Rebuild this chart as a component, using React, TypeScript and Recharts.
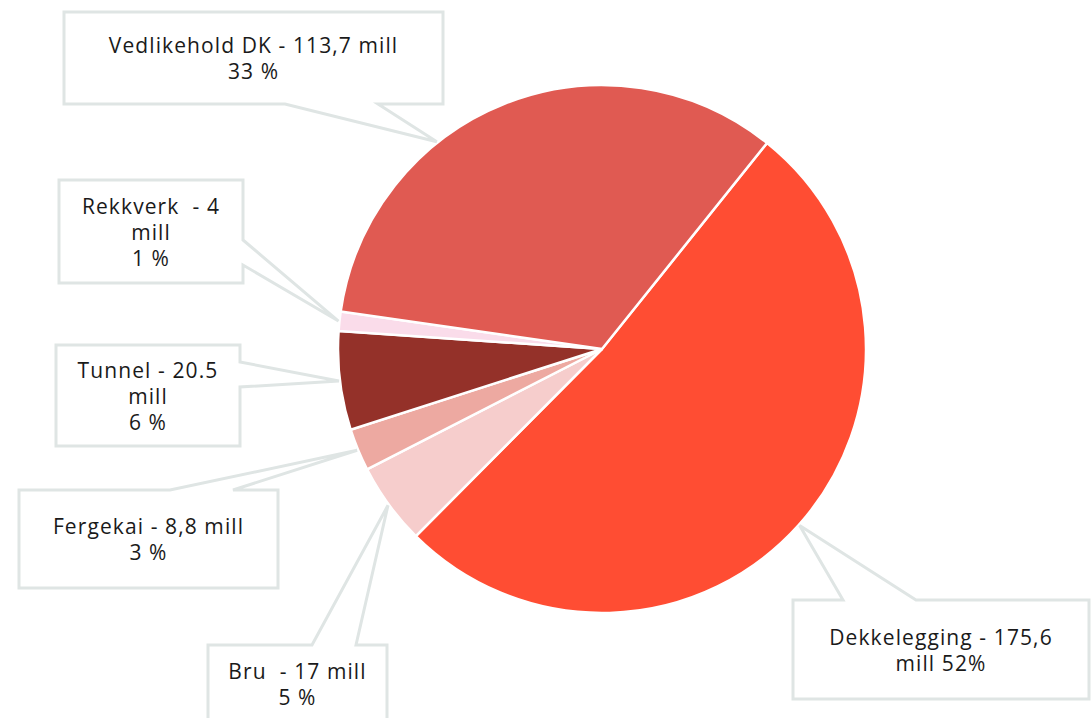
import { PieChart, Pie, Cell } from 'recharts';

// Vedlikeholdsbudsjett fordelt på tiltak (mill kr)
const categories = ['Dekkelegging', 'Bru', 'Fergekai', 'Tunnel', 'Rekkverk', 'Vedlikehold DK'];
const values = [175.6, 17, 8.8, 20.5, 4, 113.7];
const colors = ['#FF4D33', '#F6CDCC', '#EDA9A1', '#943129', '#FADCEA', '#E05A52'];
const labelLines = [
  ['Dekkelegging - 175,6', 'mill 52%'],
  ['Bru  - 17 mill', '5 %'],
  ['Fergekai - 8,8 mill', '3 %'],
  ['Tunnel - 20.5', 'mill', '6 %'],
  ['Rekkverk  - 4', 'mill', '1 %'],
  ['Vedlikehold DK - 113,7 mill', '33 %'],
];

const data = categories.map((name, i) => ({ name, value: values[i] }));

// callout boxes: rect + which side the pointer leaves from
type Callout = { x0: number; y0: number; x1: number; y1: number; side: 'top' | 'right' | 'bottom'; a: number; b: number; shift?: number };
const callouts: Callout[] = [
  { x0: 793, y0: 600, x1: 1089, y1: 699, side: 'top', a: 843, b: 916 },
  { x0: 208, y0: 645, x1: 387, y1: 724, side: 'top', a: 312, b: 356 },
  { x0: 19, y0: 490, x1: 278, y1: 588, side: 'top', a: 170, b: 233 },
  { x0: 56, y0: 345, x1: 240, y1: 446, side: 'right', a: 362, b: 387 },
  { x0: 59, y0: 180, x1: 243, y1: 283, side: 'right', a: 240, b: 265 },
  { x0: 64, y0: 12, x1: 443, y1: 104, side: 'bottom', a: 285, b: 378, shift: 17 },
];

const RADIAN = Math.PI / 180;
const LINE_H = 26;

function renderCallout(props: any) {
  const { cx, cy, midAngle, outerRadius, index } = props;
  const c = callouts[index];
  const ang = (midAngle + (c.shift || 0)) * RADIAN;
  const tx = cx + (outerRadius + 1) * Math.cos(ang);
  const ty = cy - (outerRadius + 1) * Math.sin(ang);
  const pts: [number, number][] = [[c.x0, c.y0]];
  if (c.side === 'top') pts.push([c.a, c.y0], [tx, ty], [c.b, c.y0]);
  pts.push([c.x1, c.y0]);
  if (c.side === 'right') pts.push([c.x1, c.a], [tx, ty], [c.x1, c.b]);
  pts.push([c.x1, c.y1]);
  if (c.side === 'bottom') pts.push([c.b, c.y1], [tx, ty], [c.a, c.y1]);
  pts.push([c.x0, c.y1]);
  const d = 'M' + pts.map((p) => p.join(',')).join('L') + 'Z';

  const lines = labelLines[index];
  const midX = (c.x0 + c.x1) / 2;
  const midY = index === 1 ? 684 : (c.y0 + c.y1) / 2;
  const firstY = midY - ((lines.length - 1) * LINE_H) / 2 + 8;
  return (
    <g key={`callout-${index}`}>
      <path d={d} fill="#fff" stroke="#DFE5E4" strokeWidth={3} strokeLinejoin="miter" />
      <text
        x={midX}
        textAnchor="middle"
        fontSize={21}
        letterSpacing={1.1}
        fill="#1a1a1a"
        fontFamily="'Open Sans', sans-serif"
        style={{ whiteSpace: 'pre' }}
      >
        {lines.map((l, i) => (
          <tspan key={i} x={midX} y={firstY + i * LINE_H}>{l}</tspan>
        ))}
      </text>
    </g>
  );
}

export default function App() {
  return (
    <div style={{ position: 'absolute', left: 0, top: 0, width: 1091, height: 718, background: '#fff', overflow: 'hidden' }}>
      <PieChart width={1091} height={718} margin={{ top: 0, right: 0, bottom: 0, left: 0 }}>
        <Pie
          data={data}
          dataKey="value"
          nameKey="name"
          cx={602}
          cy={349}
          outerRadius={264}
          startAngle={51.3}
          endAngle={-308.7}
          stroke="#fff"
          strokeWidth={2.5}
          label={renderCallout}
          labelLine={false}
          isAnimationActive={false}
        >
          {data.map((d, i) => (
            <Cell key={d.name} fill={colors[i]} />
          ))}
        </Pie>
      </PieChart>
    </div>
  );
}
